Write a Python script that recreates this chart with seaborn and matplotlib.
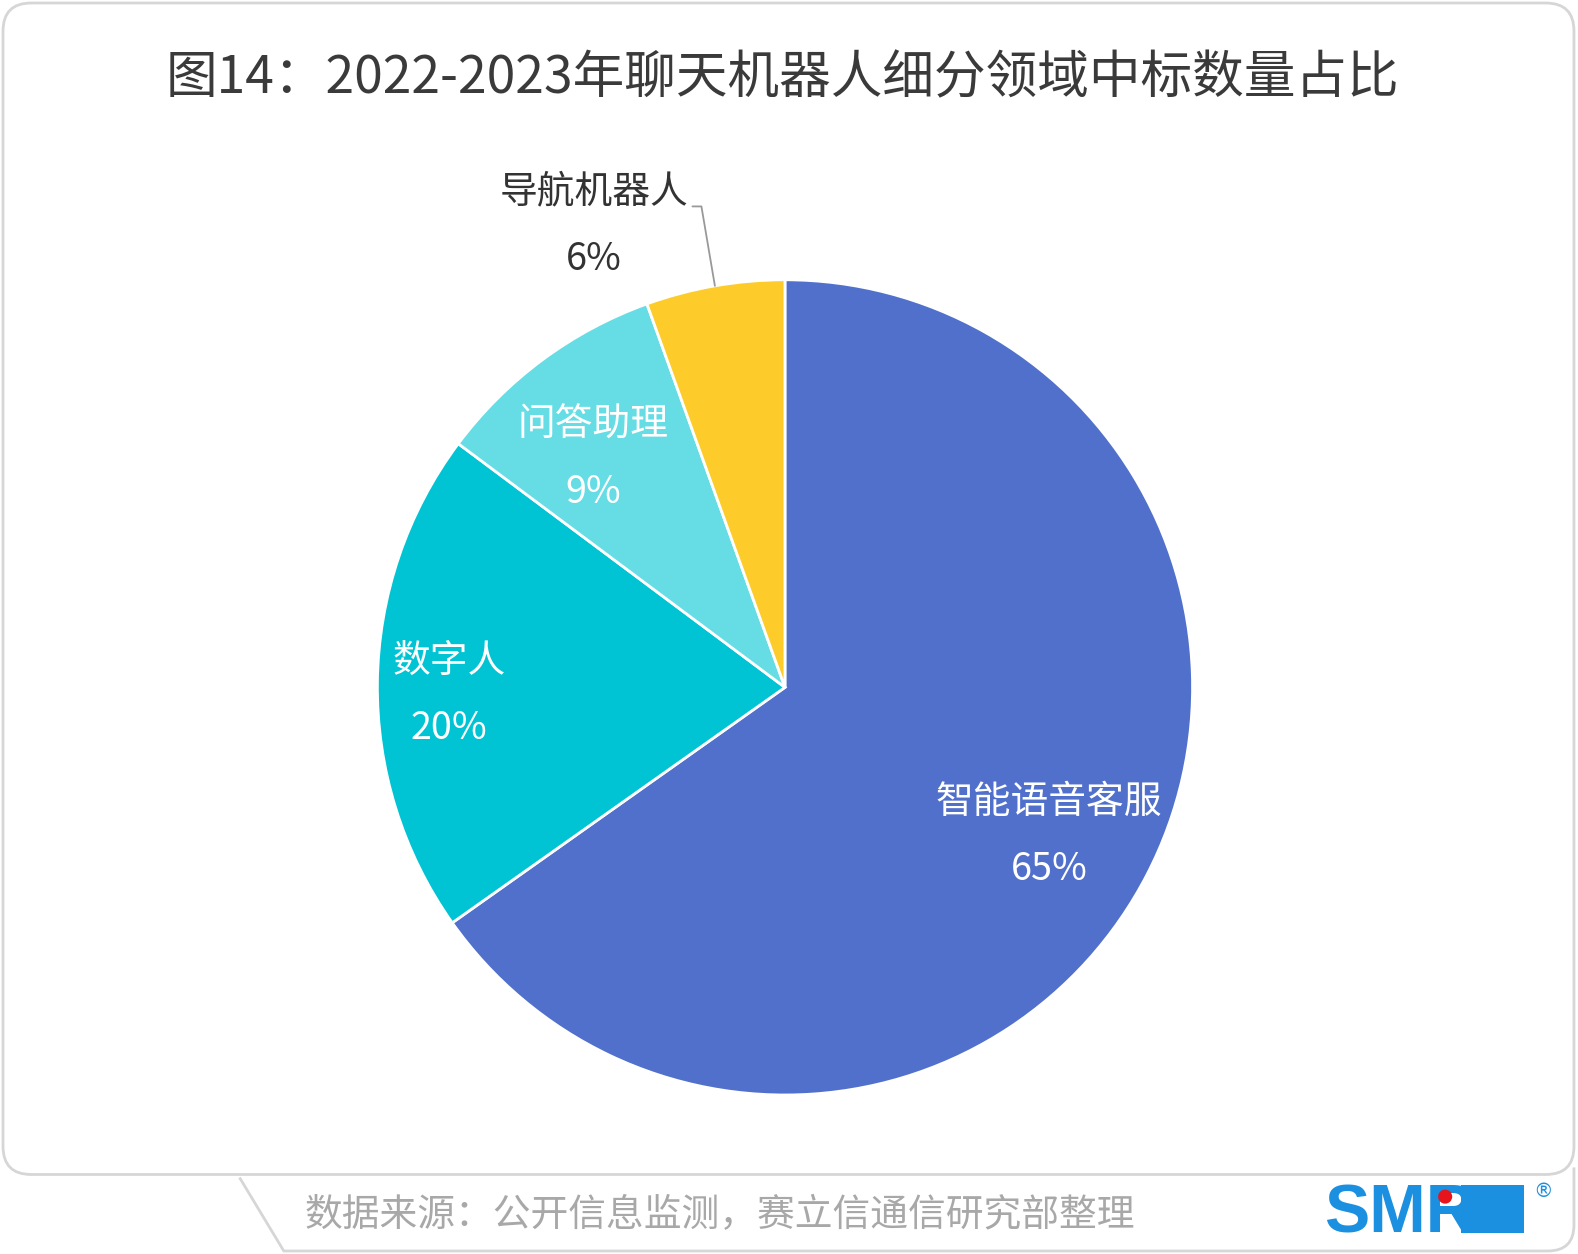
import numpy as np
import matplotlib
matplotlib.use("Agg")
import matplotlib.pyplot as plt
import seaborn as sns
from matplotlib.patches import FancyBboxPatch, Rectangle, Circle
from matplotlib.path import Path
from matplotlib.patches import PathPatch

# ---------------- data ----------------
categories = ["智能语音客服", "数字人", "问答助理", "导航机器人"]
shares = [65.2, 20.0, 9.3, 5.5]
pct_labels = ["65%", "20%", "9%", "6%"]
title = "图14：2022-2023年聊天机器人细分领域中标数量占比"
source = "数据来源：公开信息监测，赛立信通信研究部整理"

sns.set_theme(style="white")
plt.rcParams['font.family'] = ['Noto Sans CJK SC', 'DejaVu Sans']

colors = sns.color_palette(["#5070CB", "#00C4D3", "#66DDE5", "#FDCC2B"])

W, H = 1578, 1254
DW, DH = 1568, 1246  # layout coordinate space
fig = plt.figure(figsize=(W / 100, H / 100), dpi=100)
fig.patch.set_facecolor("white")

# decoration axes
deco = fig.add_axes([0, 0, 1, 1], zorder=0)
deco.set_xlim(0, DW)
deco.set_ylim(DH, 0)
deco.axis("off")

frame = FancyBboxPatch((3, 3), 1561, 1164, boxstyle="round,pad=0,rounding_size=28",
                       facecolor="white", edgecolor="#d6d6d6", linewidth=2)
deco.add_patch(frame)
foot = Path([(238, 1170), (282, 1243), (1538, 1243), (1564, 1243), (1564, 1217), (1564, 1160)],
            [Path.MOVETO, Path.LINETO, Path.LINETO, Path.CURVE3, Path.CURVE3, Path.LINETO])
deco.add_patch(PathPatch(foot, facecolor="none", edgecolor="#d6d6d6", linewidth=2))

deco.text(777, 78, title, ha="center", va="center", fontsize=37.2, color="#3a3a3a")
deco.text(303, 1208, source, ha="left", va="center", fontsize=27.2, color="#a8a8a8")

# SMR logo
logo_blue = "#1b8fe0"
deco.add_patch(Rectangle((1452, 1177), 62, 48, facecolor=logo_blue, edgecolor="none"))
deco.text(1316, 1225, "SMR", ha="left", va="baseline", fontsize=49, fontweight="bold",
          color=logo_blue, family=["Liberation Sans"])
deco.add_patch(Circle((1436, 1189), 7, facecolor="#e8141b", edgecolor="none", zorder=5))
deco.text(1533, 1184, "®", ha="center", va="center", fontsize=14, color=logo_blue,
          family=["DejaVu Sans"])

# pie axes: center at (780,683), 405 units per radius in layout space
cx, cy, s = 780, 683, 405
ax = fig.add_axes([0, 0, 1, 1], zorder=1)
ax.patch.set_alpha(0)
wedges, _ = ax.pie(shares, colors=colors, startangle=90, counterclock=False, radius=1,
                   wedgeprops=dict(edgecolor="white", linewidth=2))
ax.set_aspect("auto")
ax.set_xlim(-cx / s, (DW - cx) / s)
ax.set_ylim(-(DH - cy) / s, cy / s)
ax.axis("off")

label_r = [0.73, 0.825, 0.755]
label_da = [0.0, 0.0, 2.0]
off = 0.083
dy = -0.029
fs = 27.2
for i, w in enumerate(wedges):
    if i < 3:
        mid = np.deg2rad((w.theta1 + w.theta2) / 2 + label_da[i])
        r = label_r[i]
        x, y = r * np.cos(mid), r * np.sin(mid) + dy
        ax.text(x, y + off, categories[i], ha="center", va="center", fontsize=fs,
                color="white")
        ax.text(x, y - off, pct_labels[i], ha="center", va="center", fontsize=fs,
                color="white")
    else:
        mid = np.deg2rad((w.theta1 + w.theta2) / 2)
        x0, y0 = np.cos(mid), np.sin(mid)
        x1, y1 = -0.205, 1.18
        x2 = -0.227
        ax.plot([x0, x1, x2], [y0, y1, y1], color="#999999", linewidth=1.3,
                clip_on=False)
        tx = -0.469
        ax.text(tx, 1.215, categories[i], ha="center", va="center", fontsize=fs,
                color="#333333")
        ax.text(tx, 1.049, pct_labels[i], ha="center", va="center", fontsize=fs,
                color="#333333")

fig.savefig("out.png", dpi=100, facecolor="white")
